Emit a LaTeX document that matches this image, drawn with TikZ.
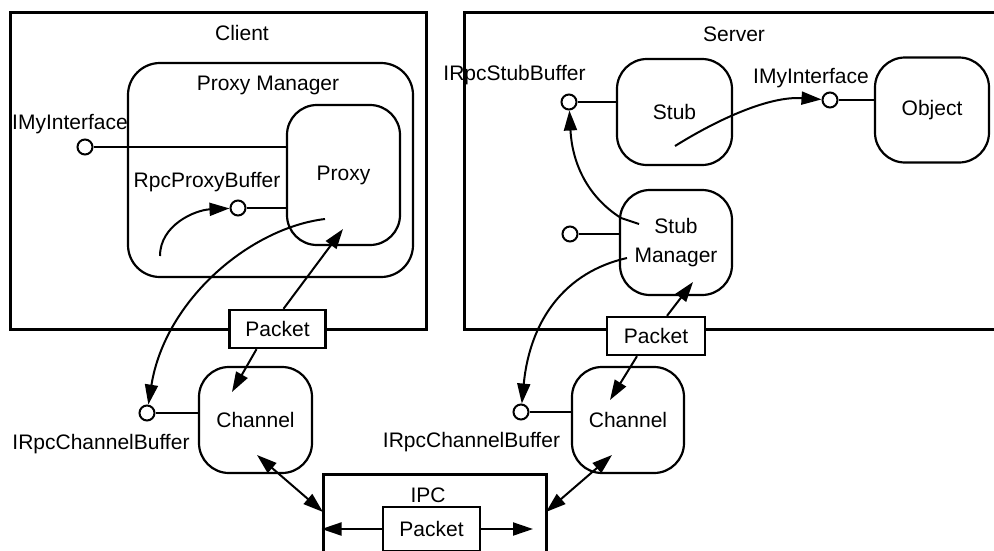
\documentclass[tikz,border=0pt]{standalone}
\usepackage{fontspec}
\setmainfont{Liberation Sans}
\usepackage{tikz}
\usetikzlibrary{arrows.meta}

\tikzset{
	outer/.style={draw, line width=3pt, inner sep=0pt},
	roundbox/.style={draw, line width=2.2pt, rounded corners=30pt, inner sep=0pt, align=center},
	pkt/.style={draw, line width=2.4pt, fill=white, minimum width=96pt, minimum height=38pt, inner sep=0pt},
	ifc/.style={draw, circle, line width=2pt, minimum size=15pt, inner sep=0pt, fill=white},
	txt/.style={inner sep=0pt},
	link/.style={line width=2pt},
	flow/.style={line width=2pt, ->},
	flowboth/.style={line width=2pt, <->},
}

\begin{document}
\begin{tikzpicture}[x=1pt, y=-1pt, font=\fontsize{21}{29}\selectfont, >={Triangle[length=20pt,width=13pt]}]
			\useasboundingbox (0,0) rectangle (994,550);
			\clip (0,0) rectangle (994,550);

			\node(client)[outer, minimum width=416pt, minimum height=317pt] at (218,170.5) {};
			\node(server)[outer, minimum width=546pt, minimum height=317pt] at (737,170.5) {};
			\node(ipc)[outer, minimum width=223pt, minimum height=146pt] at (434.5,547) {};
			\node(clientlbl)[txt] at (242,33) {Client};
			\node(serverlbl)[txt] at (734,34) {Server};
			\node(ipclbl)[txt] at (428,495) {IPC};

			\node(pmgr)[roundbox, minimum width=285pt, minimum height=214pt, rounded corners=32pt] at (270.5,170) {};
			\node(pmgrlbl)[txt] at (268,85) {Proxy Manager};
			\node(proxy)[roundbox, minimum width=113pt, minimum height=140pt] at (343.5,175) {Proxy};
			\node(chanC)[roundbox, minimum width=113pt, minimum height=106pt] at (255.5,420) {Channel};
			\node(stub)[roundbox, minimum width=115pt, minimum height=106pt] at (674.5,112) {Stub};
			\node(obj)[roundbox, minimum width=114pt, minimum height=105pt] at (932,110) {Object};
			\node(smgr)[roundbox, minimum width=112pt, minimum height=105pt] at (676,242.5) {Stub\\Manager};
			\node(chanS)[roundbox, minimum width=112pt, minimum height=106pt] at (628,420) {Channel};

			\node(ifcC)[ifc] at (85,147) {};
			\node(ifcClbl)[txt] at (70,124) {IMyInterface};
			\node(rpb)[ifc] at (238,208) {};
			\node(rpblbl)[txt] at (207,182) {RpcProxyBuffer};
			\node(rcbC)[ifc] at (147,413) {};
			\node(rcbClbl)[txt] at (101,444) {IRpcChannelBuffer};
			\node(isb)[ifc] at (569,102) {};
			\node(isblbl)[txt] at (514.5,75) {IRpcStubBuffer};
			\node(ifcS)[ifc] at (830,100) {};
			\node(ifcSlbl)[txt] at (811,78) {IMyInterface};
			\node(smgrif)[ifc] at (570,234) {};
			\node(rcbS)[ifc] at (521,412) {};
			\node(rcbSlbl)[txt] at (471.5,442) {IRpcChannelBuffer};

			\node(pkC)[pkt] at (277.5,329) {Packet};
			\node(pkS)[pkt, minimum width=98pt] at (656,336) {Packet};
			\node(pkI)[pkt, minimum width=97pt, minimum height=44pt] at (431.5,529) {Packet};

			\draw[link] (ifcC) -- (ifcC -| proxy.west);
			\draw[link] (rpb) -- (rpb -| proxy.west);
			\draw[link] (rcbC) -- (rcbC -| chanC.west);
			\draw[link] (rcbS) -- (rcbS -| chanS.west);
			\draw[link] (isb) -- (isb -| stub.west);
			\draw[link] (ifcS) -- (ifcS -| obj.west);
			\draw[link] (smgrif) -- (smgrif -| smgr.west);

			\coordinate (pmfoot) at (160,256);
			\coordinate (pxout) at (325,219);
			\coordinate (pxin) at (343,229);
			\coordinate (chCin) at (232,392);
			\coordinate (chCbot) at (257,455);
			\coordinate (ipcL) at (323,512);
			\coordinate (ipcRin) at (533,529);
			\coordinate (stubout) at (675,146);
			\coordinate (smA) at (639,224);
			\coordinate (smB) at (621,218);
			\coordinate (smC) at (627,258);
			\coordinate (smin) at (693,282);
			\coordinate (chSin) at (610,400);
			\coordinate (chSbot) at (612,455);
			\coordinate (ipcR) at (546,512);

			\draw[flow] (pmfoot) .. controls (160,225) and (195,210) .. (rpb);
			\draw[flow] (pxout) .. controls (250,228) and (165,300) .. (rcbC);
			\draw[flow] ([xshift=6pt]pkC.north) -- (pxin);
			\draw[flow] ([xshift=-21pt]pkC.south) -- (chCin);
			\draw[flowboth] (chCbot) -- (ipcL);
			\draw[flow] (pkI.west) -- (ipc.west |- pkI);
			\draw[flow] (pkI.east) -- (ipcRin);

			\draw[flow] (stubout) .. controls (720,118) and (770,96) .. (ifcS);
			\draw[flow] (smA) -- (smB) .. controls (585,195) and (572,160) .. (isb);
			\draw[flow] (smC) .. controls (565,272) and (530,320) .. (rcbS);
			\draw[flow] ([xshift=11pt]pkS.north) -- (smin);
			\draw[flow] ([xshift=-19pt]pkS.south) -- (chSin);
			\draw[flowboth] (chSbot) -- (ipcR);
		\end{tikzpicture}
\end{document}
